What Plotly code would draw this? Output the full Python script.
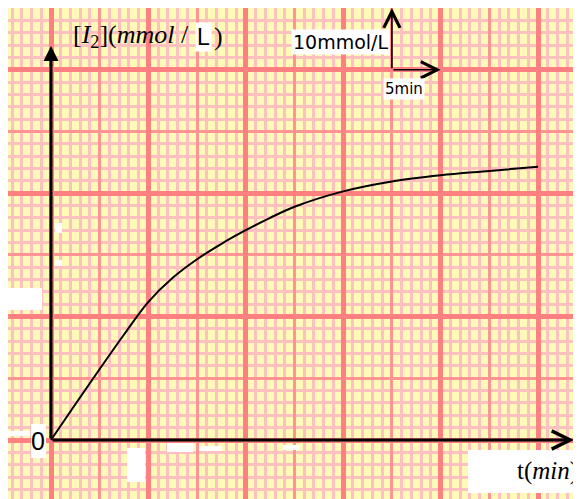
import plotly.graph_objects as go

# ---- data ----
t_min = [0, 2.5, 5, 7.5, 10, 12.5, 15, 17.5, 20, 22.5, 25, 30, 35, 40, 45, 50]
i2_mmol = [0, 5.8, 11.5, 17.1, 22.4, 26.3, 29.3, 31.8, 34.0, 36.0, 37.8, 40.3, 41.9, 42.9, 43.6, 44.3]
scale_t = [35, 40]      # 5 min scale bar
scale_c = [60, 70]      # 10 mmol/L scale bar

# page body has an 8px margin: the figure starts at window pixel (8, 8)
OFF = 8
WIN_W, WIN_H = 581, 499
W, H = WIN_W - OFF, WIN_H - OFF
X0PX, Y0PX = 51, 440            # origin, in window pixels
PX_PER_MIN, PX_PER_UNIT = 9.74, 6.17
xr = [-(X0PX - OFF) / PX_PER_MIN, (WIN_W - X0PX) / PX_PER_MIN]
yr = [-(WIN_H - Y0PX) / PX_PER_UNIT, (Y0PX - OFF) / PX_PER_UNIT]

def px2t(x):
    return (x - X0PX) / PX_PER_MIN

def px2c(y):
    return (Y0PX - y) / PX_PER_UNIT

def px(x, y):
    return (x - OFF) / W, 1 - (y - OFF) / H

BG = "#FFFAB8"
MINOR = "#FFC0C0"
MED = "#FF9494"
THICK = "#FF8080"

fig = go.Figure()
fig.add_trace(go.Scatter(x=t_min, y=i2_mmol, mode="lines",
                         line=dict(color="black", width=2, shape="spline", smoothing=1.0),
                         hoverinfo="skip", showlegend=False))
fig.add_trace(go.Scatter(x=[], y=[], xaxis="x2", yaxis="y2", showlegend=False, hoverinfo="skip"))

common = dict(showticklabels=False, zeroline=False, showline=False, ticks="", fixedrange=True)
fig.update_layout(
    width=W, height=H,
    margin=dict(l=0, r=0, t=0, b=0, pad=0),
    paper_bgcolor="white", plot_bgcolor=BG,
    showlegend=False,
    xaxis=dict(range=xr, tick0=0, dtick=5, showgrid=True, gridcolor=MED, gridwidth=2.5,
               minor=dict(dtick=1, tick0=0, showgrid=True, gridcolor=MINOR, gridwidth=3.3),
               **common),
    yaxis=dict(range=yr, tick0=0, dtick=10, showgrid=True, gridcolor=MED, gridwidth=2.5,
               minor=dict(dtick=2, tick0=0, showgrid=True, gridcolor=MINOR, gridwidth=3.3),
               **common),
    xaxis2=dict(range=xr, tick0=0, dtick=10, showgrid=True, gridcolor=THICK, gridwidth=4.5,
                overlaying="x", anchor="y2", **common),
    yaxis2=dict(range=yr, tick0=0, dtick=20, showgrid=True, gridcolor=THICK, gridwidth=4.5,
                overlaying="y", anchor="x2", **common),
)

# white erased patches (window pixels)
white_rects = [
    (8, 288, 42, 310), (127, 448, 145, 482),
    (167, 443, 193, 452), (200, 446, 222, 451), (283, 445, 300, 450),
    (468, 450, 581, 493), (31, 424, 46, 458), (8, 431, 30, 436),
    (55, 223, 62, 233), (55, 260, 62, 266),
]
for (x0, y0, x1, y1) in white_rects:
    a, b = px(x0, y0)
    c, d = px(x1, y1)
    fig.add_shape(type="rect", xref="paper", yref="paper", x0=a, y0=d, x1=c, y1=b,
                  fillcolor="white", line=dict(width=0), layer="above")

# axes with arrows
fig.add_annotation(x=0, y=px2c(46), ax=0, ay=0, xref="x", yref="y", axref="x", ayref="y",
                   text="", showarrow=True, arrowhead=2, arrowwidth=3, arrowsize=1,
                   arrowcolor="black", standoff=0, startstandoff=0)
fig.add_annotation(x=px2t(574), y=0, ax=0, ay=0, xref="x", yref="y", axref="x", ayref="y",
                   text="", showarrow=True, arrowhead=5, arrowwidth=3, arrowsize=1.2,
                   arrowcolor="black", standoff=0, startstandoff=0)

# scale bar arrows
fig.add_annotation(x=scale_t[0], y=scale_c[1], ax=scale_t[0], ay=scale_c[0],
                   xref="x", yref="y", axref="x", ayref="y",
                   text="", showarrow=True, arrowhead=5, arrowwidth=1.6, arrowsize=2,
                   arrowcolor="black", standoff=0, startstandoff=0)
fig.add_annotation(x=scale_t[1], y=scale_c[0], ax=scale_t[0], ay=scale_c[0],
                   xref="x", yref="y", axref="x", ayref="y",
                   text="", showarrow=True, arrowhead=5, arrowwidth=1.6, arrowsize=2,
                   arrowcolor="black", standoff=0, startstandoff=0)

def label(text, x, y, size, family, xanchor="center", bg=None, color="black"):
    a, b = px(x, y)
    fig.add_annotation(x=a, y=b, xref="paper", yref="paper", text=text, showarrow=False,
                       xanchor=xanchor, yanchor="middle",
                       font=dict(size=size, family=family, color=color),
                       bgcolor=bg, borderpad=1)

SERIF = "Liberation Serif"
SANS = "Liberation Sans"

label("[<i>I</i><sub>2</sub>](<i>mmol</i> /", 71, 36, 26, SERIF, xanchor="left")
label("L", 203, 37, 23, SANS, bg="white")
label(")", 212, 36, 26, SERIF, xanchor="left")
label("10mmol/L", 340, 42, 19, "DejaVu Sans", bg="white")
label("5min", 404, 89, 15, "DejaVu Sans", bg="white")
label("0", 38, 441, 25, SANS)
label("t(<i>min</i>)", 580, 471, 25, SERIF, xanchor="right")

fig.write_html("out.html")
